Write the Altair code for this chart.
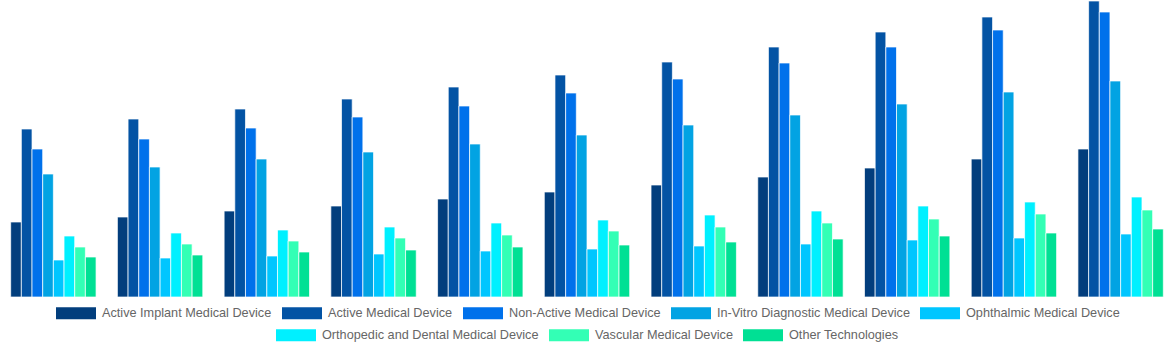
import altair as alt
import pandas as pd

years = [str(y) for y in range(2022, 2033)]

series = [
    "Active Implant Medical Device",
    "Active Medical Device",
    "Non-Active Medical Device",
    "In-Vitro Diagnostic Medical Device",
    "Ophthalmic Medical Device",
    "Orthopedic and Dental Medical Device",
    "Vascular Medical Device",
    "Other Technologies",
]

colors = ["#023E7D", "#0353A4", "#0071EB", "#02A3E3",
          "#00C6FF", "#00F0FF", "#33FFB5", "#00E094"]

active_implant = [75, 80, 86, 91, 98, 105, 112, 120, 129, 138, 148]
active = [168, 178, 188, 198, 210, 222, 235, 250, 265, 280, 296]
non_active = [148, 158, 169, 180, 191, 204, 218, 234, 250, 267, 285]
ivd = [123, 130, 138, 145, 153, 162, 172, 182, 193, 205, 216]
ophthalmic = [37, 39, 41, 43, 46, 48, 51, 53, 57, 59, 63]
orthopedic = [61, 64, 67, 70, 74, 77, 82, 86, 91, 95, 100]
vascular = [50, 53, 56, 59, 62, 66, 70, 74, 78, 83, 87]
other = [40, 42, 45, 47, 50, 52, 55, 58, 61, 64, 68]

all_values = [active_implant, active, non_active, ivd,
              ophthalmic, orthopedic, vascular, other]

rows = []
for s, vals in zip(series, all_values):
    for y, v in zip(years, vals):
        rows.append({"year": y, "series": s, "value": v})
df = pd.DataFrame(rows)

label_font = "Liberation Sans"
rect_symbol = "M-1,-0.3H1V0.3H-1Z"


def make_legend(x, y):
    return alt.Legend(
        title=None,
        orient="none",
        legendX=x,
        legendY=y,
        direction="horizontal",
        symbolType=rect_symbol,
        symbolSize=1600,
        symbolStrokeWidth=0,
        labelFont=label_font,
        labelFontSize=12.7,
        labelColor="#666666",
        labelOffset=6,
        labelLimit=400,
        columnPadding=10,
        padding=0,
    )


x_enc = alt.X("year:N", axis=None,
              scale=alt.Scale(paddingInner=0.2, paddingOuter=0.1))
xoff_enc = alt.XOffset("series:N", sort=series,
                       scale=alt.Scale(domain=series, paddingInner=0, paddingOuter=0))
y_enc = alt.Y("value:Q", axis=None,
              scale=alt.Scale(domain=[0, 296], nice=False, zero=True))

base = alt.Chart(df).mark_bar(stroke="white", strokeWidth=1, strokeOpacity=0.7)

layer_a = base.transform_filter(
    alt.FieldOneOfPredicate(field="series", oneOf=series[:5])
).encode(
    x=x_enc,
    xOffset=xoff_enc,
    y=y_enc,
    color=alt.Color("series:N",
                    scale=alt.Scale(domain=series[:5], range=colors[:5]),
                    sort=series[:5],
                    legend=make_legend(56, 292)),
)

layer_b = base.transform_filter(
    alt.FieldOneOfPredicate(field="series", oneOf=series[5:])
).encode(
    x=x_enc,
    xOffset=xoff_enc,
    y=y_enc,
    fill=alt.Fill("series:N",
                  scale=alt.Scale(domain=series[5:], range=colors[5:]),
                  sort=series[5:],
                  legend=make_legend(276, 314)),
)

chart = alt.layer(layer_a, layer_b).properties(
    width=1174,
    height=296,
    padding=0,
    background="white",
).configure_view(stroke=None)

chart.save("out.html", embed_options={"renderer": "svg", "actions": False})
